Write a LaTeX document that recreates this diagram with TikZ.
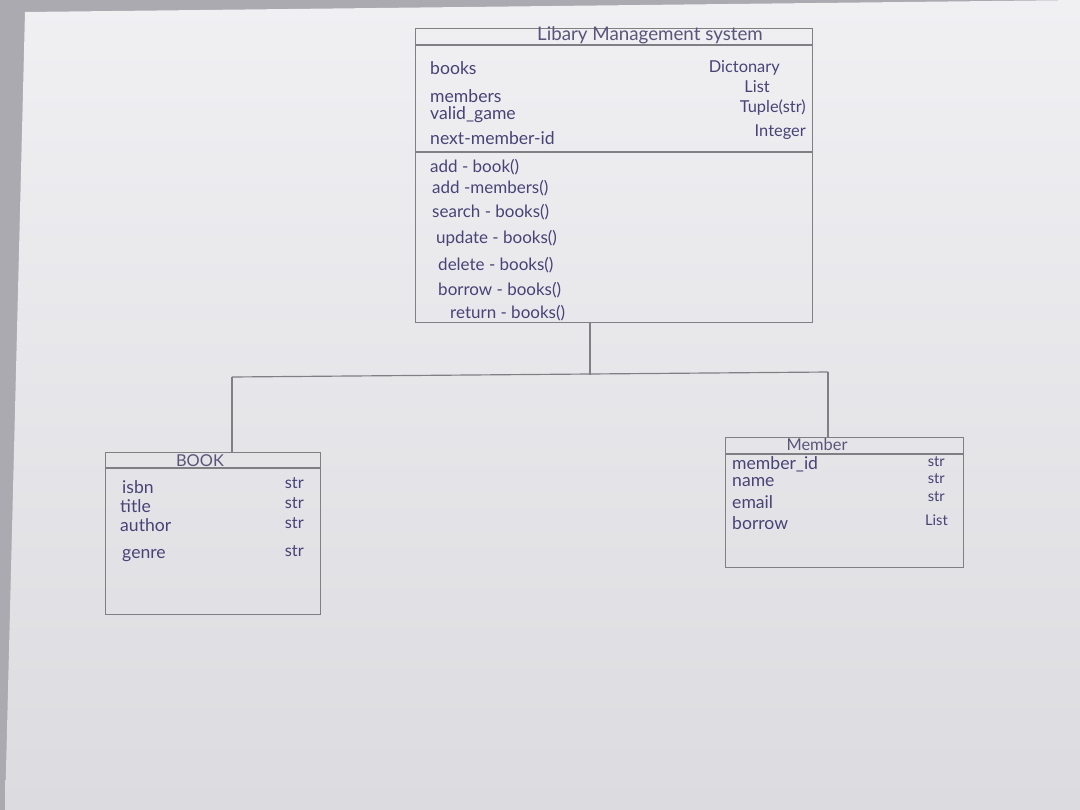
\documentclass[tikz,border=0pt]{standalone}
\usepackage{fontspec}
\setmainfont{Lato}
\usetikzlibrary{calc}
\definecolor{ink}{RGB}{72,66,118}
\definecolor{pencil}{RGB}{128,128,132}
\definecolor{paperA}{RGB}{240,240,243}
\definecolor{paperB}{RGB}{220,220,224}
\definecolor{back}{RGB}{170,170,176}
\begin{document}
\begin{tikzpicture}[x=0.03cm,y=-0.03cm,
  classbox/.style={draw=pencil,line width=1pt,rectangle,anchor=north west,inner sep=0pt},
  wire/.style={draw=pencil,line width=1pt},
  attr/.style={anchor=west,text=ink,font=\fontsize{15}{17}\selectfont,inner sep=0pt},
  meth/.style={anchor=west,text=ink,font=\fontsize{14.5}{17}\selectfont,inner sep=0pt},
  typ/.style={anchor=east,text=ink,font=\fontsize{14}{16}\selectfont,inner sep=0pt},
  ttl/.style={text=ink!70!gray,font=\fontsize{14}{16}\selectfont,inner sep=0pt}]
\useasboundingbox (0,0) rectangle (1080,810);
\fill[back] (0,0) rectangle (1080,810);
\shade[top color=paperA,bottom color=paperB] (25,12) -- (1080,0) -- (1080,810) -- (5,810) -- cycle;
% main class
\node[classbox,minimum width=11.91cm,minimum height=8.82cm] (main) at (415,28) {};
\draw[wire] (415,45) -- (812,45);
\draw[wire] (415,152) -- (812,152);
\node[ttl,font=\fontsize{16}{18}\selectfont] (mt) at (650,35) {Libary Management system};
\node[attr] (a1) at (430,68) {books};
\node[attr] (a2) at (430,96) {members};
\node[attr] (a3) at (430,115) {valid\_game};
\node[attr] (a4) at (430,138) {next-member-id};
\node[typ] (t1) at (780,68) {Dictonary};
\node[typ] (t2) at (770,87) {List};
\node[typ] (t3) at (806,108) {Tuple(str)};
\node[typ] (t4) at (806,132) {Integer};
\node[meth] (m1) at (430,167) {add - book()};
\node[meth] (m2) at (432,188) {add -members()};
\node[meth] (m3) at (432,212) {search - books()};
\node[meth] (m4) at (436,238) {update - books()};
\node[meth] (m5) at (438,265) {delete - books()};
\node[meth] (m6) at (438,290) {borrow - books()};
\node[meth] (m7) at (450,313) {return - books()};
% Book class
\node[classbox,minimum width=6.45cm,minimum height=4.86cm] (book) at (105,452) {};
\draw[wire] (105,468) -- (320,468);
\node[ttl] (bt) at (200,461) {BOOK};
\node[attr] (b1) at (122,487) {isbn};
\node[attr] (b2) at (120,506) {title};
\node[attr] (b3) at (120,525) {author};
\node[attr] (b4) at (122,556) {genre};
\node[typ] (bs1) at (304,483) {str};
\node[typ] (bs2) at (304,503) {str};
\node[typ] (bs3) at (304,523) {str};
\node[typ] (bs4) at (304,551) {str};
% Member class
\node[classbox,minimum width=7.14cm,minimum height=3.9cm] (member) at (725,437) {};
\draw[wire] (725,454) -- (963,454);
\node[ttl] (mmt) at (817,445) {Member};
\node[attr] (e1) at (732,464) {member\_id};
\node[attr] (e2) at (732,482) {name};
\node[attr] (e3) at (732,502) {email};
\node[attr] (e4) at (732,523) {borrow};
\node[typ,font=\fontsize{12.5}{14}\selectfont] (es1) at (945,462) {str};
\node[typ,font=\fontsize{12.5}{14}\selectfont] (es2) at (945,479) {str};
\node[typ,font=\fontsize{12.5}{14}\selectfont] (es3) at (945,497) {str};
\node[typ,font=\fontsize{12.5}{14}\selectfont] (es4) at (948,520) {List};
% connectors
\coordinate (top) at (590,375);
\coordinate (hl) at (232,377);
\coordinate (hr) at (828,372);
\draw[wire] (main.south -| top) -- (top);
\draw[wire] (hl) -- (hr);
\draw[wire] (hl) -- (book.north -| hl);
\draw[wire] (hr) -- (member.north -| hr);
\end{tikzpicture}
\end{document}
